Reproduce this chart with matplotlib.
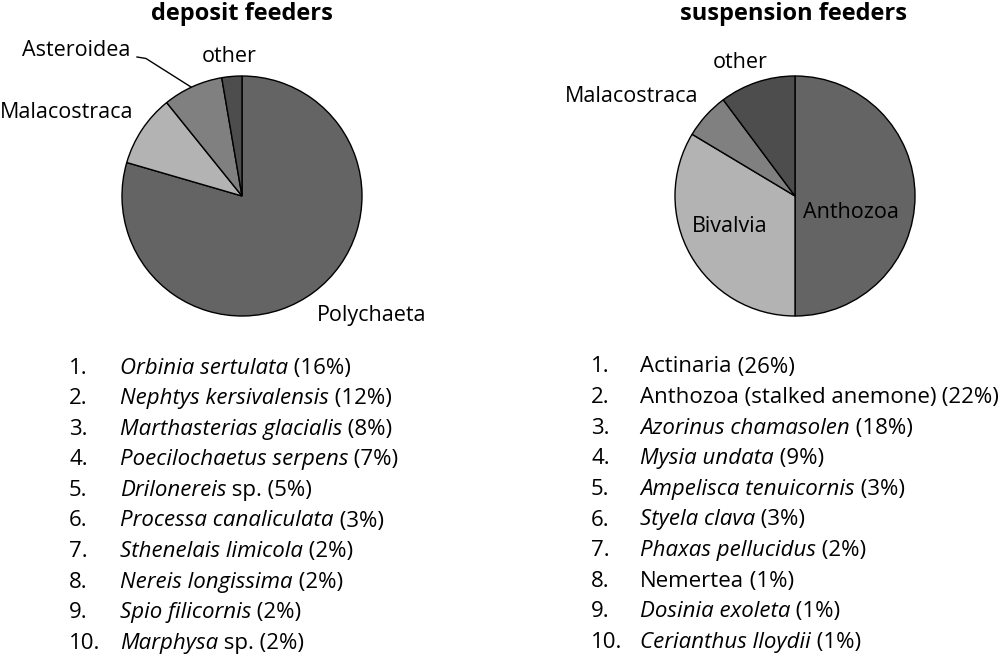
import matplotlib
matplotlib.use('Agg')
import matplotlib.pyplot as plt

plt.rcParams['font.family'] = ['Open Sans', 'DejaVu Sans']

# pie data (share in %)
dep_labels = ['Polychaeta', 'Malacostraca', 'Asteroidea', 'other']
dep_values = [79.5, 9.7, 8.1, 2.7]
sus_labels = ['Anthozoa', 'Bivalvia', 'Malacostraca', 'other']
sus_values = [50.0, 33.6, 6.2, 10.2]
slice_colors = ['#646464', '#b3b3b3', '#808080', '#4d4d4d']

# top ten taxa lists
dep_names = ['Orbinia sertulata', 'Nephtys kersivalensis', 'Marthasterias glacialis',
             'Poecilochaetus serpens', 'Drilonereis', 'Processa canaliculata',
             'Sthenelais limicola', 'Nereis longissima', 'Spio filicornis', 'Marphysa']
dep_suffix = ['', '', '', '', ' sp.', '', '', '', '', ' sp.']
dep_italic = [True] * 10
dep_pct = [16, 12, 8, 7, 5, 3, 2, 2, 2, 2]

sus_names = ['Actinaria', 'Anthozoa (stalked anemone)', 'Azorinus chamasolen',
             'Mysia undata', 'Ampelisca tenuicornis', 'Styela clava',
             'Phaxas pellucidus', 'Nemertea', 'Dosinia exoleta', 'Cerianthus lloydii']
sus_suffix = [''] * 10
sus_italic = [False, False, True, True, True, True, True, False, True, True]
sus_pct = [26, 22, 18, 9, 3, 3, 2, 1, 1, 1]

W, H = 1000, 656
fig = plt.figure(figsize=(W / 100, H / 100), dpi=100)


def fx(px):
    return px / W


def fy(py):
    return 1 - py / H


def pie_axes(cx, cy, r):
    ax = fig.add_axes([fx(cx - r), fy(cy + r), 2 * r / W, 2 * r / H])
    ax.set_axis_off()
    return ax


LABEL_FS = 15.5
TITLE_FS = 17

# deposit feeders
ax1 = pie_axes(242, 196, 120)
ax1.pie(dep_values, colors=slice_colors, startangle=90, counterclock=False, radius=1,
        wedgeprops=dict(edgecolor='black', linewidth=1))
ax1.set_xlim(-1, 1)
ax1.set_ylim(-1, 1)
fig.text(fx(242), fy(14), 'deposit feeders', ha='center', va='center',
         fontsize=TITLE_FS, fontweight='bold')
fig.text(fx(372), fy(315), dep_labels[0], ha='center', va='center', fontsize=LABEL_FS)
fig.text(fx(67), fy(112), dep_labels[1], ha='center', va='center', fontsize=LABEL_FS)
fig.text(fx(76), fy(50), dep_labels[2], ha='center', va='center', fontsize=LABEL_FS)
fig.text(fx(229), fy(57), dep_labels[3], ha='center', va='center', fontsize=LABEL_FS)
fig.add_artist(plt.Line2D([fx(137), fx(146), fx(191)], [fy(57), fy(58.5), fy(87)],
                          color='black', linewidth=1))

# suspension feeders
ax2 = pie_axes(795, 196, 120)
ax2.pie(sus_values, colors=slice_colors, startangle=90, counterclock=False, radius=1,
        wedgeprops=dict(edgecolor='black', linewidth=1))
ax2.set_xlim(-1, 1)
ax2.set_ylim(-1, 1)
fig.text(fx(794), fy(14), 'suspension feeders', ha='center', va='center',
         fontsize=TITLE_FS, fontweight='bold')
fig.text(fx(851), fy(213), sus_labels[0], ha='center', va='center', fontsize=LABEL_FS)
fig.text(fx(730), fy(227), sus_labels[1], ha='center', va='center', fontsize=LABEL_FS)
fig.text(fx(632), fy(97), sus_labels[2], ha='center', va='center', fontsize=LABEL_FS)
fig.text(fx(740), fy(62), sus_labels[3], ha='center', va='center', fontsize=LABEL_FS)

# ranked lists under the pies
renderer = fig.canvas.get_renderer()
LIST_FS = 16


def write_list(x_num, x_name, y0, step, names, suffix, italic, pct):
    for i, name in enumerate(names):
        y = fy(y0 + i * step)
        fig.text(fx(x_num), y, f'{i + 1}.', ha='left', va='center', fontsize=LIST_FS)
        t = fig.text(fx(x_name), y, name, ha='left', va='center', fontsize=LIST_FS,
                     style='italic' if italic[i] else 'normal')
        x1 = t.get_window_extent(renderer).x1
        fig.text(x1 / W, y, f'{suffix[i]} ({pct[i]}%)', ha='left', va='center',
                 fontsize=LIST_FS)


write_list(69, 120, 368, 30.6, dep_names, dep_suffix, dep_italic, dep_pct)
write_list(591, 640, 367, 30.6, sus_names, sus_suffix, sus_italic, sus_pct)

fig.savefig('out.png', dpi=100, facecolor='white')
